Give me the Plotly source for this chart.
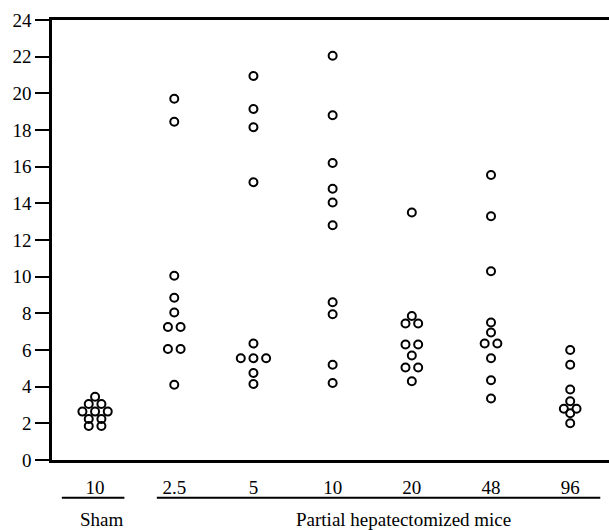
import plotly.graph_objects as go
from collections import Counter

# ---- data ----
group_labels = ["10", "2.5", "5", "10", "20", "48", "96"]
sham = [3.45, 3.05, 3.05, 2.64, 2.64, 2.64, 2.24, 2.24, 1.85, 1.85]
ph_2_5 = [19.7, 18.45, 10.05, 8.85, 8.05, 7.25, 7.25, 6.05, 6.05, 4.1]
ph_5 = [20.95, 19.15, 18.15, 15.15, 6.35, 5.55, 5.55, 5.55, 4.75, 4.15]
ph_10 = [22.05, 18.8, 16.2, 14.8, 14.05, 12.8, 8.6, 7.95, 5.2, 4.2]
ph_20 = [13.5, 7.85, 7.45, 7.45, 6.3, 6.3, 5.7, 5.05, 5.05, 4.3]
ph_48 = [15.55, 13.3, 10.3, 7.5, 6.95, 6.35, 6.35, 5.55, 4.35, 3.35]
ph_96 = [6.0, 5.2, 3.85, 3.2, 2.8, 2.8, 2.55, 2.0]
groups = [sham, ph_2_5, ph_5, ph_10, ph_20, ph_48, ph_96]
y_ticks = list(range(0, 25, 2))

FONT = "'Times New Roman', 'Liberation Serif', 'DejaVu Serif', serif"
DODGE = 0.16

xs, ys = [], []
for gi, vals in enumerate(groups):
    counts = Counter(vals)
    seen = Counter()
    for v in vals:
        n = counts[v]
        k = seen[v]
        seen[v] += 1
        off = (k - (n - 1) / 2) * DODGE
        xs.append(gi + off)
        ys.append(v)

fig = go.Figure()
fig.add_trace(go.Scatter(
    x=xs, y=ys, mode="markers",
    marker=dict(symbol="circle-open", size=8, color="black",
                line=dict(width=2, color="black")),
    showlegend=False, hoverinfo="skip"))

fig.update_layout(
    width=609, height=530,
    margin=dict(l=52, r=0, t=20, b=70),
    paper_bgcolor="white", plot_bgcolor="white",
    font=dict(family=FONT, size=19, color="black"),
    xaxis=dict(
        range=[-0.544, 6.49], showgrid=False, zeroline=False,
        tickvals=list(range(len(group_labels))), ticktext=group_labels,
        ticks="", ticklabelstandoff=8,
        showline=True, linecolor="black", linewidth=2.5, mirror=True,
        tickfont=dict(family=FONT, size=19, color="black"),
    ),
    yaxis=dict(
        range=[0, 24], showgrid=False, zeroline=False,
        tickvals=y_ticks, ticks="outside", ticklen=14, tickwidth=2,
        tickcolor="black", showline=True, linecolor="black", linewidth=2.5,
        tickfont=dict(family=FONT, size=19, color="black"),
    ),
)

# group underlines
fig.add_shape(type="line", xref="x", yref="paper", x0=-0.42, x1=0.37,
              y0=-0.086, y1=-0.086, line=dict(color="black", width=2))
fig.add_shape(type="line", xref="x", yref="paper", x0=0.78, x1=6.38,
              y0=-0.086, y1=-0.086, line=dict(color="black", width=2))

fig.add_annotation(x=0.09, y=-0.136, xref="x", yref="paper", text="Sham",
                   yanchor="middle", showarrow=False,
                   font=dict(family=FONT, size=19, color="black"))
fig.add_annotation(x=3.89, y=-0.136, xref="x", yref="paper",
                   text="Partial hepatectomized mice", yanchor="middle",
                   showarrow=False, font=dict(family=FONT, size=19, color="black"))

fig.write_html("out.html")
